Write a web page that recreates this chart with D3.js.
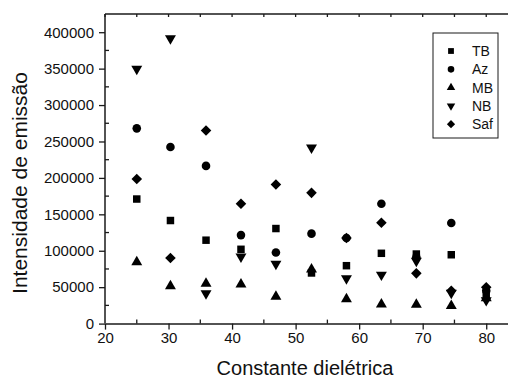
<!DOCTYPE html>
<html>
<head>
<meta charset="utf-8">
<script src="https://cdn.jsdelivr.net/npm/d3@7"></script>
<style>
  html, body { margin: 0; padding: 0; background: #fff; }
  svg { display: block; font-family: Arial, "Liberation Sans", sans-serif; }
</style>
</head>
<body>
<div id="chart"></div>
<script>
// data
const dielectric = [25.0, 30.3, 35.9, 41.4, 46.9, 52.5, 58.0, 63.5, 69.0, 74.5, 80.0];
const TB  = [171000, 141500, 114500, 102000, 130500, 69500, 79500, 96500, 95500, 94500, 38000];
const Az  = [268000, 242500, 216500, 121500, 97500, 123500, 117500, 164500, 91000, 138000, 45000];
const MB  = [84500, 51500, 55000, 54000, 37000, 74500, 33500, 26500, 26000, 24500, 35000];
const NB  = [349500, 391500, 41500, 92000, 82000, 241500, 62000, 67000, 86000, 42000, 32000];
const Saf = [198500, 90000, 265000, 164500, 191000, 179500, 117500, 138500, 69000, 45000, 50000];
const seriesNames = ['TB', 'Az', 'MB', 'NB', 'Saf'];
const yTicks = [0, 50000, 100000, 150000, 200000, 250000, 300000, 350000, 400000];
const xTicks = [20, 30, 40, 50, 60, 70, 80];

const width = 508, height = 380;
const frame = {left: 105, top: 14, bottom: 323.6, right: 518};
const ink = '#1a1a1a';

const svg = d3.select('#chart')
  .append('svg')
  .attr('width', width)
  .attr('height', height);

const scaleX = d3.scaleLinear().domain([20, 85]).range([frame.left, frame.right]);
const scaleY = d3.scaleLinear().domain([0, 425000]).range([frame.bottom, frame.top]);

// symbols (down triangle and diamond are rotated shapes)
const shapes = {
  TB:  {type: d3.symbolSquare, size: 56, rot: 0},
  Az:  {type: d3.symbolCircle, size: 58, rot: 0},
  MB:  {type: d3.symbolTriangle, size: 52, rot: 0},
  NB:  {type: d3.symbolTriangle, size: 52, rot: 180},
  Saf: {type: d3.symbolSquare, size: 56, rot: 45}
};
const values = {TB, Az, MB, NB, Saf};

// axes
const axisLine = (sel) => sel.select('.domain').attr('stroke', ink).attr('stroke-width', 1.5);

const axisX = svg.append('g')
  .attr('transform', `translate(0, ${frame.bottom})`)
  .call(d3.axisBottom(scaleX).tickValues(xTicks).tickSize(6).tickSizeOuter(0).tickPadding(3))
  .call(axisLine);
axisX.selectAll('.tick line').attr('stroke', ink).attr('stroke-width', 1.3);
axisX.selectAll('text').attr('fill', '#111').style('font-size', '15px');

// minor x ticks point inward
axisX.append('g')
  .selectAll('line')
  .data(d3.range(25, 85, 10))
  .join('line')
  .attr('x1', d => scaleX(d)).attr('x2', d => scaleX(d))
  .attr('y1', 0).attr('y2', -4)
  .attr('stroke', ink).attr('stroke-width', 1.3);

const axisY = svg.append('g')
  .attr('transform', `translate(${frame.left}, 0)`)
  .call(d3.axisLeft(scaleY).tickValues(yTicks).tickFormat(d3.format('d'))
    .tickSize(6).tickSizeOuter(0).tickPadding(5))
  .call(axisLine);
axisY.select('.domain').attr('d', `M0,${frame.bottom}V${frame.top}`);
axisY.selectAll('.tick line').attr('stroke', ink).attr('stroke-width', 1.3);
axisY.selectAll('text').attr('fill', '#111').style('font-size', '15px');

axisY.append('g')
  .selectAll('line')
  .data(d3.range(25000, 425000, 50000))
  .join('line')
  .attr('x1', 0).attr('x2', 4)
  .attr('y1', d => scaleY(d)).attr('y2', d => scaleY(d))
  .attr('stroke', ink).attr('stroke-width', 1.3);

// top frame line with inward ticks
const topFrame = svg.append('g').attr('transform', `translate(0, ${frame.top})`);
topFrame.append('line')
  .attr('x1', frame.left).attr('x2', frame.right)
  .attr('stroke', ink).attr('stroke-width', 1.5);
topFrame.selectAll('.top-tick')
  .data(d3.range(20, 85, 5))
  .join('line')
  .attr('class', 'top-tick')
  .attr('x1', d => scaleX(d)).attr('x2', d => scaleX(d))
  .attr('y1', 0).attr('y2', 3)
  .attr('stroke', ink).attr('stroke-width', 1.3);

// axis titles
svg.append('text')
  .attr('x', 305)
  .attr('y', 375)
  .attr('text-anchor', 'middle')
  .style('font-size', '20px')
  .attr('fill', '#111')
  .text('Constante dielétrica');

svg.append('text')
  .attr('transform', 'translate(27, 183) rotate(-90)')
  .attr('text-anchor', 'middle')
  .style('font-size', '21px')
  .attr('fill', '#111')
  .text('Intensidade de emissão');

// markers
seriesNames.forEach(name => {
  const s = shapes[name];
  const pts = dielectric.map((x, i) => ({x, y: values[name][i]}));
  svg.append('g')
    .selectAll('path')
    .data(pts)
    .join('path')
    .attr('d', d3.symbol().type(s.type).size(s.size))
    .attr('transform', d => `translate(${scaleX(d.x)}, ${scaleY(d.y)}) rotate(${s.rot})`)
    .attr('fill', '#000');
});

// legend
const legend = svg.append('g').attr('transform', 'translate(433, 33)');
legend.append('rect')
  .attr('width', 65).attr('height', 105)
  .attr('fill', '#fff').attr('stroke', ink).attr('stroke-width', 1);
legend.selectAll('.item')
  .data(seriesNames)
  .join('g')
  .attr('class', 'item')
  .attr('transform', (d, i) => `translate(0, ${18 + i * 18.3})`)
  .each(function (d) {
    const s = shapes[d];
    const g = d3.select(this);
    g.append('path')
      .attr('d', d3.symbol().type(s.type).size(s.size * 0.6))
      .attr('transform', `translate(18, 0) rotate(${s.rot})`)
      .attr('fill', '#000');
    g.append('text')
      .attr('x', 39).attr('y', 5)
      .style('font-size', '14px')
      .attr('fill', '#111')
      .text(d);
  });
</script>
</body>
</html>
